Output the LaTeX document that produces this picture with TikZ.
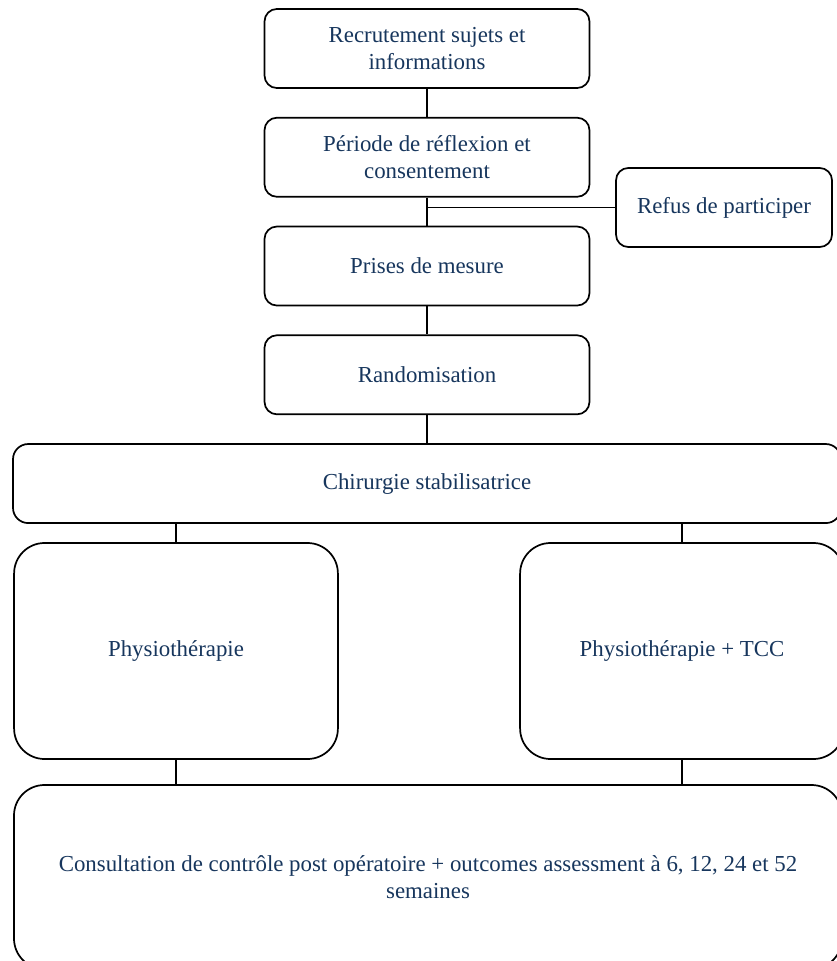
\documentclass[tikz,border=0pt]{standalone}
\usepackage{fontspec}
\setmainfont{Liberation Serif}
\usepackage{tikz}
\usetikzlibrary{positioning,calc}
\definecolor{textnavy}{RGB}{23,54,93}

\begin{document}
\begin{tikzpicture}[
      x=0.525pt, y=-0.525pt,
      node distance=14.7pt,
      font=\fontsize{12}{14.2}\selectfont,
      stepbox/.style ={rounded corners=6.5pt, draw=black, line width=0.9pt,
                       fill=white, text=textnavy, align=center, inner sep=3pt,
                       minimum width=170.6pt, minimum height=41.5pt},
      widebox/.style ={stepbox, rounded corners=8pt, minimum width=434.7pt},
      armbox/.style  ={stepbox, rounded corners=16pt, minimum width=170pt,
                       minimum height=113.4pt},
      endbox/.style  ={stepbox, rounded corners=16pt, minimum width=434.7pt,
                       minimum height=96.6pt},
      sidebox/.style ={stepbox, minimum width=113.4pt},
      link/.style    ={draw=black, line width=0.85pt}
    ]
    \useasboundingbox (0,0) rectangle (836,961);
    % --- main chain ---
    \node[stepbox] (recrut) at (427,48.5) {Recrutement sujets et\\informations};
    \node[stepbox, below=of recrut] (reflex) {Période de réflexion et\\consentement};
    \node[stepbox, below=of reflex] (mesure) {Prises de mesure};
    \node[stepbox, below=of mesure] (random) {Randomisation};
    \node[widebox, below=of random] (chir) {Chirurgie stabilisatrice};
    % --- side exit ---
    \node[sidebox] (refus) at (724,207.5) {Refus de participer};
    % --- two arms ---
    \node[armbox] (physio) at (176,651) {Physiothérapie};
    \node[armbox] (tcc) at (682,651) {Physiothérapie + TCC};
    % --- follow-up ---
    \node[endbox] (suivi) at (428,877)
      {Consultation de contrôle post opératoire + outcomes assessment à 6, 12, 24 et 52\\semaines};
    % --- connectors ---
    \draw[link] (recrut) -- (reflex);
    \draw[link] (reflex) -- (mesure);
    \draw[link] (mesure) -- (random);
    \draw[link] (random) -- (chir);
    \draw[link] (refus.west) -- (refus.west -| reflex.south);
    \draw[link] (chir.south -| physio.north) -- (physio.north);
    \draw[link] (chir.south -| tcc.north) -- (tcc.north);
    \draw[link] (physio.south) -- (physio.south |- suivi.north);
    \draw[link] (tcc.south) -- (tcc.south |- suivi.north);
  \end{tikzpicture}
\end{document}
